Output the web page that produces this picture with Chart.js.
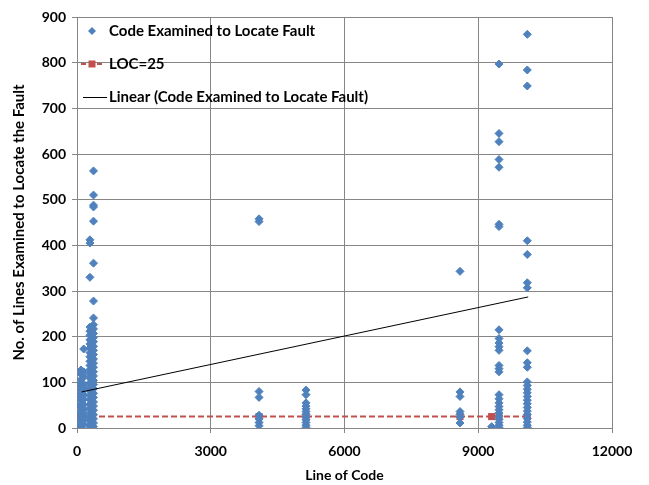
<!DOCTYPE html>
<html>
<head>
<meta charset="utf-8">
<script src="https://cdn.jsdelivr.net/npm/chart.js@4.4.0/dist/chart.umd.min.js"></script>
<style>
  html, body { margin: 0; padding: 0; background: #fff; }
  #wrap { width: 649px; height: 485px; }
</style>
</head>
<body>
<div id="wrap"><canvas id="faultChart" width="649" height="485"></canvas></div>
<script>
// Small programs (< 500 LOC): x position and lines examined for each fault
const smallLOC = [90, 150, 290, 370];
const smallExamined = [
  [127, 118, 106, 98, 91, 83, 75, 68, 61, 52, 46, 38, 31, 22, 16, 9, 2],
  [173, 123, 112, 96, 86, 73, 63, 51, 41, 29, 19, 8],
  [412, 405, 330, 221, 212, 203, 193, 184, 175, 165, 156, 146, 137, 128, 118, 109, 99, 90, 81, 71, 62, 52, 43, 34, 24, 15, 6, 1],
  [563, 510, 488, 484, 453, 361, 278, 241, 226, 217, 207, 198, 189, 179, 170, 161, 151, 142, 133, 123, 114, 104, 95, 86, 76, 67, 57, 48, 39, 29, 20, 11, 3]
];

// Larger programs
const bigLOC = [4083, 5137, 8591, 9300, 9466, 10100];
const bigExamined = [
  [458, 452, 80, 67, 28, 20, 12, 5],
  [83, 73, 55, 48, 42, 36, 30, 24, 18, 12, 6, 1],
  [343, 79, 69, 36, 30, 24, 11],
  [3],
  [797, 645, 627, 588, 571, 446, 441, 215, 196, 186, 178, 170, 137, 130, 123, 73, 64, 55, 47, 40, 33, 26, 19, 12, 6, 1],
  [862, 784, 749, 410, 380, 318, 307, 169, 143, 133, 101, 93, 85, 77, 69, 61, 53, 45, 37, 29, 21, 13, 6, 1]
];

// LOC=25 reference line
const thresholdLOC = [90, 4083, 5137, 8591, 9300, 9466, 10100];
const thresholdValue = 25;

// Linear trend line (Excel trendline)
const trendLOC = [105, 10120];
const trendExamined = [79, 287];

const xTicks = [0, 3000, 6000, 9000, 12000];
const yTicks = [0, 100, 200, 300, 400, 500, 600, 700, 800, 900];

const BLUE = '#4F81BD';
const RED = '#C0504D';
const GRID = '#868686';
const FONT = 'Lato';

// build points
const examinedPoints = [];
smallLOC.forEach((x, i) => smallExamined[i].forEach(y => examinedPoints.push({ x: x, y: y })));
bigLOC.forEach((x, i) => bigExamined[i].forEach(y => examinedPoints.push({ x: x, y: y })));

const thresholdPoints = thresholdLOC.map(x => ({ x: x, y: thresholdValue }));
const trendPoints = trendLOC.map((x, i) => ({ x: x, y: trendExamined[i] }));

// legend drawn inside the plot, like the Excel one
const insideLegend = {
  id: 'insideLegend',
  afterDraw(chart) {
    const ctx = chart.ctx;
    const a = chart.chartArea;
    const labels = chart.data.datasets.map(d => d.label);
    const rows = [a.top + 14, a.top + 47, a.top + 80];
    const textX = a.left + 32;
    ctx.save();
    ctx.font = 'bold 15px ' + FONT;
    ctx.textBaseline = 'middle';

    // diamond
    ctx.fillStyle = BLUE;
    ctx.beginPath();
    ctx.moveTo(a.left + 15, rows[0] - 4);
    ctx.lineTo(a.left + 19, rows[0]);
    ctx.lineTo(a.left + 15, rows[0] + 4);
    ctx.lineTo(a.left + 11, rows[0]);
    ctx.closePath();
    ctx.fill();

    // dashed red with square
    ctx.strokeStyle = RED;
    ctx.lineWidth = 2;
    ctx.setLineDash([5, 3]);
    ctx.beginPath();
    ctx.moveTo(a.left + 4, rows[1]);
    ctx.lineTo(a.left + 28, rows[1]);
    ctx.stroke();
    ctx.setLineDash([]);
    ctx.fillStyle = RED;
    ctx.fillRect(a.left + 11.5, rows[1] - 3.5, 7, 7);

    // black trend line
    ctx.strokeStyle = '#000';
    ctx.lineWidth = 1;
    ctx.beginPath();
    ctx.moveTo(a.left + 6, rows[2] + 0.5);
    ctx.lineTo(a.left + 30, rows[2] + 0.5);
    ctx.stroke();

    ctx.fillStyle = '#000';
    ctx.fillText(labels[1], textX, rows[0]);
    ctx.fillText(labels[2], textX, rows[1]);
    ctx.fillText(labels[0], textX, rows[2]);
    ctx.restore();
  }
};

const ctx = document.getElementById('faultChart').getContext('2d');
new Chart(ctx, {
  type: 'scatter',
  data: {
    datasets: [
      {
        label: 'Linear (Code Examined to Locate Fault)',
        data: trendPoints,
        showLine: true,
        borderColor: '#000',
        borderWidth: 1,
        pointRadius: 0,
        order: 0
      },
      {
        label: 'Code Examined to Locate Fault',
        data: examinedPoints,
        pointStyle: 'rectRot',
        pointRadius: 4,
        borderWidth: 1,
        backgroundColor: BLUE,
        borderColor: BLUE,
        order: 1
      },
      {
        label: 'LOC=25',
        data: thresholdPoints,
        showLine: true,
        borderColor: RED,
        borderWidth: 2,
        borderDash: [6, 3],
        pointStyle: 'rect',
        pointRadius: 5,
        pointBorderWidth: 0,
        pointBackgroundColor: RED,
        backgroundColor: RED,
        order: 2
      }
    ]
  },
  options: {
    responsive: false,
    animation: false,
    layout: { padding: { left: 0, right: 37, top: 17, bottom: 0 } },
    plugins: {
      legend: { display: false },
      tooltip: { enabled: false }
    },
    scales: {
      x: {
        type: 'linear',
        min: 0,
        max: 12000,
        afterFit: s => { s.height = 57; },
        afterBuildTicks: s => { s.ticks = xTicks.map(v => ({ value: v })); },
        ticks: { color: '#000', font: { family: FONT, size: 14, weight: 'bold' }, padding: 10, maxRotation: 0, callback: v => String(v) },
        grid: { color: GRID, tickLength: 5, tickColor: GRID },
        border: { color: GRID },
        title: { display: true, text: 'Line of Code', color: '#000', font: { family: FONT, size: 14, weight: 'bold' }, padding: { top: 0, bottom: 1 } }
      },
      y: {
        type: 'linear',
        min: 0,
        max: 900,
        afterFit: s => { s.width = 77; },
        afterBuildTicks: s => { s.ticks = yTicks.map(v => ({ value: v })); },
        ticks: { color: '#000', font: { family: FONT, size: 14, weight: 'bold' }, padding: 6, callback: v => String(v) },
        grid: { color: GRID, tickLength: 5, tickColor: GRID },
        border: { color: GRID },
        title: { display: true, text: 'No. of Lines Examined to Locate the Fault', color: '#000', font: { family: FONT, size: 15, weight: 'bold' }, padding: { top: 10, bottom: 0 } }
      }
    }
  },
  plugins: [insideLegend]
});
</script>
</body>
</html>
